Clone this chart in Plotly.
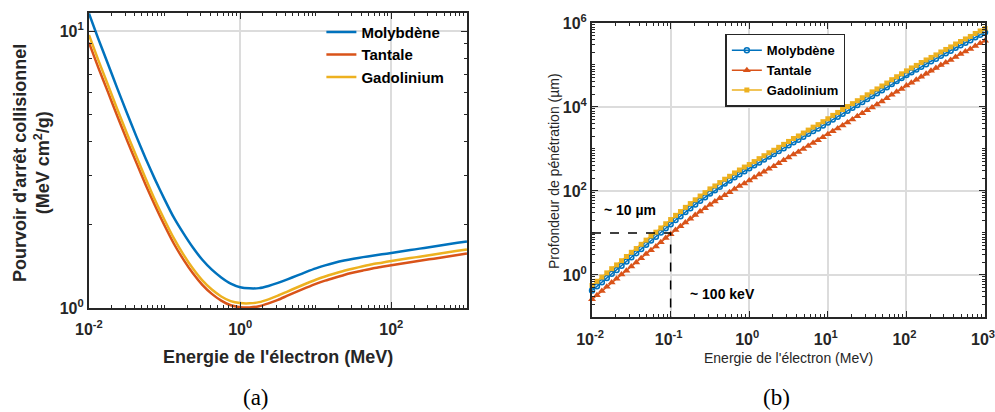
import numpy as np
import plotly.graph_objects as go

# ---------------- Data ----------------
# (a) Collisional stopping power (MeV cm^2/g) vs electron energy (MeV), 8 points per decade
sp_energy_mev = [0.01, 0.0133, 0.0178, 0.0237, 0.0316, 0.0422, 0.0562, 0.075,
                 0.1, 0.133, 0.178, 0.237, 0.316, 0.422, 0.562, 0.75,
                 1.0, 1.33, 1.78, 2.37, 3.16, 4.22, 5.62, 7.5,
                 10.0, 13.3, 17.8, 23.7, 31.6, 42.2, 56.2, 75.0,
                 100.0, 133.0, 178.0, 237.0, 316.0, 422.0, 562.0, 750.0, 1000.0]
sp_molybdene = [11.60, 9.39, 7.63, 6.22, 5.09, 4.18, 3.47, 2.91,
                2.47, 2.12, 1.86, 1.654, 1.494, 1.376, 1.290, 1.225,
                1.189, 1.178, 1.180, 1.201, 1.232, 1.269, 1.309, 1.350,
                1.390, 1.426, 1.457, 1.484, 1.507, 1.527, 1.545, 1.563,
                1.581, 1.600, 1.619, 1.639, 1.659, 1.679, 1.699, 1.720, 1.741]
sp_tantale = [9.10, 7.39, 6.04, 4.94, 4.06, 3.36, 2.79, 2.34,
              1.986, 1.707, 1.496, 1.335, 1.213, 1.125, 1.064, 1.023,
              1.007, 1.005, 1.014, 1.039, 1.070, 1.108, 1.146, 1.184,
              1.222, 1.256, 1.287, 1.317, 1.343, 1.367, 1.390, 1.409,
              1.428, 1.446, 1.463, 1.481, 1.499, 1.517, 1.536, 1.554, 1.573]
sp_gadolinium = [9.70, 7.87, 6.41, 5.23, 4.29, 3.54, 2.94, 2.45,
                 2.08, 1.784, 1.559, 1.388, 1.258, 1.166, 1.101, 1.059,
                 1.042, 1.040, 1.050, 1.075, 1.108, 1.147, 1.186, 1.226,
                 1.265, 1.300, 1.332, 1.363, 1.390, 1.415, 1.439, 1.458,
                 1.479, 1.497, 1.515, 1.533, 1.552, 1.571, 1.590, 1.609, 1.629]

# (b) Penetration depth (log10 of depth in um) vs electron energy (16 points per decade)
depth_energy_mev = np.logspace(-2, 3, 81)
depth_log10_molybdene = [
    -0.37, -0.27, -0.17, -0.07, 0.03, 0.12, 0.22, 0.32, 0.42,
    0.52, 0.62, 0.72, 0.82, 0.91, 1.01, 1.11, 1.21,
    1.31, 1.40, 1.50, 1.59, 1.68, 1.77, 1.85, 1.94,
    2.02, 2.10, 2.18, 2.25, 2.33, 2.40, 2.47, 2.54,
    2.61, 2.68, 2.75, 2.82, 2.88, 2.95, 3.02, 3.09,
    3.16, 3.22, 3.29, 3.36, 3.43, 3.49, 3.56, 3.63,
    3.70, 3.77, 3.84, 3.91, 3.98, 4.05, 4.12, 4.19,
    4.26, 4.33, 4.40, 4.47, 4.55, 4.62, 4.69, 4.76,
    4.83, 4.89, 4.96, 5.02, 5.09, 5.15, 5.22, 5.28,
    5.34, 5.41, 5.47, 5.53, 5.59, 5.66, 5.72, 5.78]
depth_log10_tantale = [
    -0.58, -0.48, -0.38, -0.28, -0.18, -0.09, 0.01, 0.10, 0.20,
    0.30, 0.40, 0.50, 0.59, 0.68, 0.78, 0.88, 0.97,
    1.07, 1.16, 1.25, 1.34, 1.43, 1.51, 1.59, 1.67,
    1.75, 1.83, 1.90, 1.97, 2.05, 2.12, 2.18, 2.25,
    2.32, 2.39, 2.46, 2.53, 2.59, 2.66, 2.73, 2.80,
    2.87, 2.93, 3.00, 3.07, 3.14, 3.21, 3.28, 3.35,
    3.42, 3.49, 3.56, 3.63, 3.70, 3.78, 3.85, 3.92,
    3.99, 4.06, 4.13, 4.21, 4.29, 4.36, 4.43, 4.51,
    4.58, 4.65, 4.72, 4.79, 4.86, 4.93, 5.00, 5.06,
    5.12, 5.19, 5.26, 5.32, 5.38, 5.45, 5.52, 5.58]
depth_log10_gadolinium = [
    -0.25, -0.15, -0.05, 0.05, 0.15, 0.24, 0.34, 0.44, 0.54,
    0.63, 0.73, 0.83, 0.93, 1.02, 1.12, 1.22, 1.32,
    1.42, 1.51, 1.61, 1.70, 1.79, 1.88, 1.96, 2.05,
    2.12, 2.20, 2.28, 2.35, 2.43, 2.50, 2.57, 2.63,
    2.70, 2.77, 2.84, 2.91, 2.97, 3.04, 3.11, 3.18,
    3.25, 3.31, 3.38, 3.45, 3.52, 3.58, 3.65, 3.72,
    3.80, 3.87, 3.94, 4.01, 4.08, 4.15, 4.22, 4.29,
    4.36, 4.43, 4.50, 4.57, 4.65, 4.72, 4.79, 4.86,
    4.93, 4.99, 5.06, 5.12, 5.18, 5.24, 5.31, 5.37,
    5.43, 5.50, 5.56, 5.62, 5.68, 5.75, 5.81, 5.87]

# dashed guide: ~100 keV -> ~10 um
guide_energy_mev = [0.01, 0.1, 0.1]
guide_depth_um = [10, 10, 0.1]

# tick labels
a_x_tickvals = [0.01, 1, 100]
a_x_ticktext = ["10<sup>-2</sup>", "10<sup>0</sup>", "10<sup>2</sup>"]
a_y_tickvals = [1, 10]
a_y_ticktext = ["10<sup>0</sup>", "10<sup>1</sup>"]
b_x_tickvals = [0.01, 0.1, 1, 10, 100, 1000]
b_x_ticktext = ["10<sup>-2</sup>", "10<sup>-1</sup>", "10<sup>0</sup>",
                "10<sup>1</sup>", "10<sup>2</sup>", "10<sup>3</sup>"]
b_y_tickvals = [1, 100, 1e4, 1e6]
b_y_ticktext = ["10<sup>0</sup>", "10<sup>2</sup>", "10<sup>4</sup>", "10<sup>6</sup>"]

names = ["Molybdène", "Tantale", "Gadolinium"]
colors = ["#0072BD", "#D95319", "#EDB120"]


def minor_vals(lo, hi, skip_major):
    vals = []
    for d in range(lo, hi):
        for m in range(1, 10):
            v = m * 10.0 ** d
            if m == 1 and any(abs(v - s) < 1e-9 * s for s in skip_major):
                continue
            vals.append(v)
    return vals


# ---------------- Figure ----------------
fig = go.Figure()

for name, col, ys in zip(names, colors, [sp_molybdene, sp_tantale, sp_gadolinium]):
    fig.add_trace(go.Scatter(
        x=sp_energy_mev, y=ys, mode="lines", name=name,
        line=dict(color=col, width=2.5, shape="spline", smoothing=0.6),
        xaxis="x", yaxis="y", legend="legend"))

marker_styles = [
    dict(symbol="circle-open", size=5, color=colors[0], line=dict(width=1.5, color=colors[0])),
    dict(symbol="triangle-up", size=7, color=colors[1], line=dict(width=0)),
    dict(symbol="square", size=5, color=colors[2], line=dict(width=0)),
]
for name, col, mk, logs in zip(names, colors, marker_styles,
                               [depth_log10_molybdene, depth_log10_tantale,
                                depth_log10_gadolinium]):
    fig.add_trace(go.Scatter(
        x=depth_energy_mev, y=[10 ** v for v in logs], mode="lines+markers", name=name,
        line=dict(color=col, width=1.5), marker=mk, cliponaxis=False,
        xaxis="x2", yaxis="y2", legend="legend2"))

fig.add_trace(go.Scatter(
    x=guide_energy_mev, y=guide_depth_um, mode="lines", showlegend=False,
    line=dict(color="black", width=1.5, dash="dash"), xaxis="x2", yaxis="y2"))

ax_common = dict(
    type="log", showline=True, linecolor="#262626", linewidth=2, mirror="allticks",
    ticks="inside", ticklen=6, tickwidth=1, tickcolor="#262626",
    showgrid=True, gridcolor="#dcdcdc", gridwidth=1.5, zeroline=False,
    tickmode="array", automargin=False, ticklabeloverflow="allow",
)

tick_font = dict(family="Liberation Sans, Arial", size=16, color="#262626", weight="bold")
minor_common = dict(ticks="inside", ticklen=3, tickcolor="#262626", showgrid=False)

fig.update_layout(
    template="none",
    width=995, height=412,
    margin=dict(l=0, r=0, t=0, b=0, autoexpand=False),
    paper_bgcolor="white", plot_bgcolor="white",
    xaxis=dict(ax_common, domain=[0.0894, 0.4693], anchor="y", range=[-2, 3.0001],
               tickvals=a_x_tickvals, ticktext=a_x_ticktext, tickfont=tick_font,
               ticklabelstandoff=6,
               minor=dict(minor_common, tickvals=minor_vals(-2, 3, a_x_tickvals))),
    yaxis=dict(ax_common, domain=[0.2524, 0.9684], anchor="x", range=[0, 1.066],
               tickvals=a_y_tickvals, ticktext=a_y_ticktext, tickfont=tick_font,
               minor=dict(minor_common, tickvals=minor_vals(0, 2, a_y_tickvals))),
    xaxis2=dict(ax_common, domain=[0.595, 0.990], anchor="y2", range=[-2, 3.0001],
                tickvals=b_x_tickvals, ticktext=b_x_ticktext, tickfont=tick_font,
                ticklabelstandoff=7, ticklabelshift=-2,
                minor=dict(minor_common, tickvals=minor_vals(-2, 3, b_x_tickvals))),
    yaxis2=dict(ax_common, domain=[0.2306, 0.9442], anchor="x2", range=[-1, 6],
                tickvals=b_y_tickvals, ticktext=b_y_ticktext, tickfont=tick_font,
                minor=dict(minor_common, tickvals=minor_vals(-1, 6, b_y_tickvals))),
    legend=dict(x=0.323, y=0.962, xanchor="left", yanchor="top",
                bgcolor="rgba(255,255,255,0)", borderwidth=0,
                font=dict(family="Liberation Sans, Arial", size=15, color="black",
                          weight="bold"),
                tracegroupgap=0, itemwidth=30),
    legend2=dict(x=0.729, y=0.918, xanchor="left", yanchor="top",
                 bgcolor="white", bordercolor="#262626", borderwidth=1.5,
                 font=dict(family="Liberation Sans, Arial", size=13, color="black",
                           weight="bold"),
                 tracegroupgap=0, itemwidth=30),
    showlegend=True,
)

title_a = dict(family="Liberation Sans, Arial", size=18, color="#262626", weight="bold")
title_b = dict(family="Liberation Sans, Arial", size=14, color="#262626")
annots = [
    dict(text="Energie de l'électron (MeV)", x=278 / 995, y=1 - 357 / 412, font=title_a),
    dict(text="Pourvoir d'arrêt collisionnel<br>(MeV cm<sup>2</sup>/g)", x=32 / 995,
         y=1 - 163 / 412, textangle=-90, font=title_a),
    dict(text="Energie de l'électron (MeV)", x=788 / 995, y=1 - 358 / 412, font=title_b),
    dict(text="Profondeur de pénétration (µm)", x=554 / 995, y=1 - 171 / 412,
         textangle=-90, font=title_b),
    dict(text="(a)", x=256 / 995, y=1 - 397 / 412,
         font=dict(family="Liberation Serif, DejaVu Serif", size=23, color="black")),
    dict(text="(b)", x=776 / 995, y=1 - 397 / 412,
         font=dict(family="Liberation Serif, DejaVu Serif", size=23, color="black")),
]
for a in annots:
    fig.add_annotation(xref="paper", yref="paper", xanchor="center", yanchor="middle",
                       showarrow=False, **a)

note_font = dict(family="Liberation Sans, Arial", size=14, color="black", weight="bold")
fig.add_annotation(xref="x2", yref="y2", x=np.log10(0.03), y=np.log10(35),
                   text="~ 10 µm", showarrow=False, font=note_font)
fig.add_annotation(xref="x2", yref="y2", x=np.log10(0.46), y=np.log10(0.35),
                   text="~ 100 keV", showarrow=False, font=note_font)

fig.write_html("out.html", config={"displayModeBar": False},
               post_script="document.body.style.margin='0';")
